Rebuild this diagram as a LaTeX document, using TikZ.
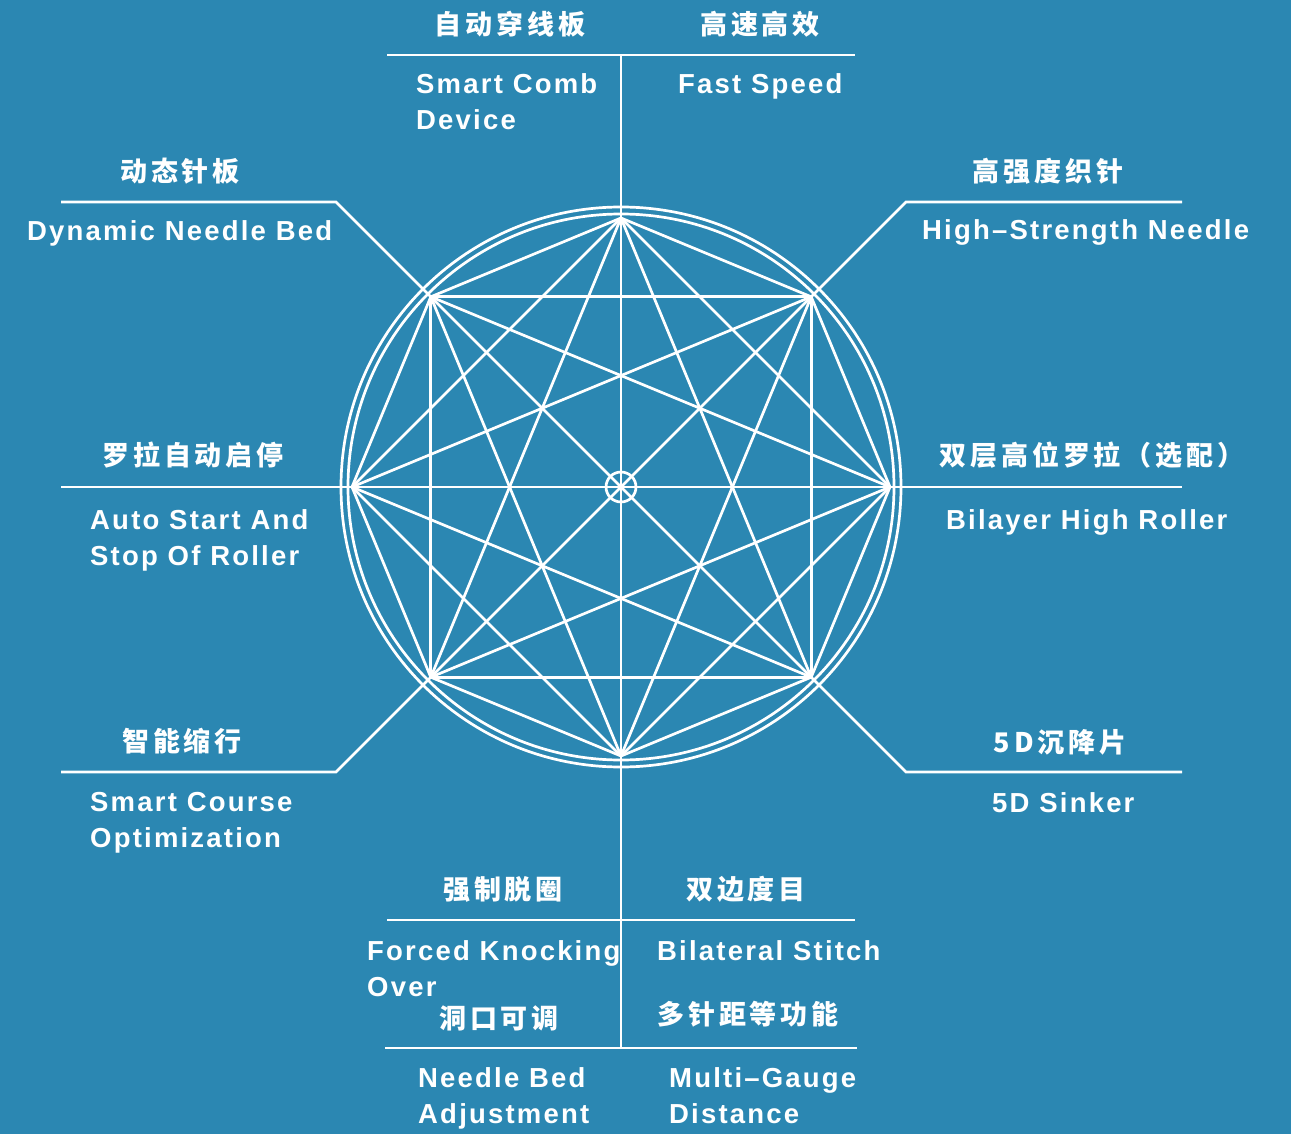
\documentclass[tikz,border=0pt]{standalone}
\usepackage{fontspec}
\usetikzlibrary{calc}
\setmainfont{Liberation Sans}[LetterSpace=8]
\newfontfamily\zhfont{Noto Sans CJK SC}[LetterSpace=14]
\definecolor{bgblue}{RGB}{43,135,178}
\begin{document}
\begin{tikzpicture}[x=1pt,y=-1pt,
		wl/.style={white,line width=2.7pt},
		en/.style={text=white,inner sep=0pt,anchor=base west,align=left,font=\fontsize{27.5}{36}\selectfont\bfseries},
		zh/.style={text=white,inner sep=0pt,font=\zhfont\fontsize{27}{30}\selectfont\bfseries}]
			\fill[bgblue] (0,0) rectangle (1291,1134);
			% octagon with all its chords
			\coordinate (o) at (621,487);
			\foreach \i in {0,...,7}
				\coordinate (v\i) at ($(o)+(\i*45:269)$);
			\foreach \i in {0,...,6}{
				\pgfmathtruncatemacro{\nx}{\i+1}
				\foreach \j in {\nx,...,7}
					\draw[wl] (v\i) -- (v\j);
			}
			\draw[wl] (o) circle (273);
			\draw[wl] (o) circle (280);
			\draw[wl] (o) circle (15);
			% leader lines
			\coordinate (top) at (621,55);
			\coordinate (bot) at (621,1048);
			\coordinate (lft) at (61,487);
			\coordinate (rgt) at (1182,487);
			\coordinate (tlk) at (336,202);
			\coordinate (tle) at (61,202);
			\coordinate (trk) at (906,202);
			\coordinate (tre) at (1182,202);
			\coordinate (blk) at (336,772);
			\coordinate (ble) at (61,772);
			\coordinate (brk) at (906,772);
			\coordinate (bre) at (1182,772);
			\draw[wl] (top) -- (bot);
			\draw[wl] (lft) -- (rgt);
			\draw[wl] (v5) -- (tlk) -- (tle);
			\draw[wl] (v7) -- (trk) -- (tre);
			\draw[wl] (v3) -- (blk) -- (ble);
			\draw[wl] (v1) -- (brk) -- (bre);
			\draw[wl] (387,55) -- (855,55);
			\draw[wl] (387,920) -- (855,920);
			\draw[wl] (385,1048) -- (857,1048);
			% labels
			\node[zh] (zh-comb) at (510,24) {自动穿线板};
			\node[zh] (zh-speed) at (760,24) {高速高效};
			\node[en] (en-comb) at (416,130) {Smart Comb\\Device};
			\node[en] (en-speed) at (678,94) {Fast Speed};
			\node[zh] (zh-bed) at (180,171) {动态针板};
			\node[en] (en-bed) at (27,241) {Dynamic Needle Bed};
			\node[zh] (zh-roller) at (193,455) {罗拉自动启停};
			\node[en] (en-roller) at (90,565) {Auto Start And\\Stop Of Roller};
			\node[zh] (zh-course) at (182,741) {智能缩行};
			\node[en] (en-course) at (90,847) {Smart Course\\Optimization};
			\node[zh] (zh-needle) at (1048,171) {高强度织针};
			\node[en] (en-needle) at (922,240) {High–Strength Needle};
			\node[zh] (zh-bilayer) at (1092,455) {双层高位罗拉（选配）};
			\node[en] (en-bilayer) at (946,529) {Bilayer High Roller};
			\node[zh] (zh-sinker) at (1060,742) {5D沉降片};
			\node[en] (en-sinker) at (992,812) {5D Sinker};
			\node[zh] (zh-knock) at (503,889) {强制脱圈};
			\node[zh] (zh-stitch) at (746,889) {双边度目};
			\node[en] (en-knock) at (367,996) {Forced Knocking\\Over};
			\node[en] (en-stitch) at (657,960) {Bilateral Stitch};
			\node[zh] (zh-adjust) at (499,1018) {洞口可调};
			\node[zh] (zh-gauge) at (748,1014) {多针距等功能};
			\node[en] (en-adjust) at (418,1123) {Needle Bed\\Adjustment};
			\node[en] (en-gauge) at (669,1123) {Multi–Gauge\\Distance};
\end{tikzpicture}
\end{document}
